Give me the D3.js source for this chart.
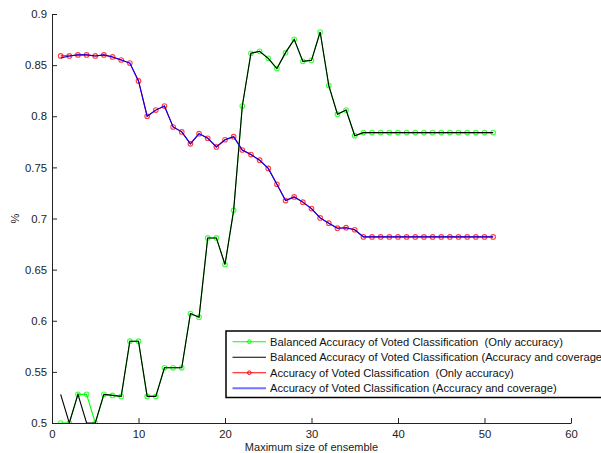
<!DOCTYPE html>
<html>
<head>
<meta charset="utf-8">
<script src="https://cdn.jsdelivr.net/npm/d3@7"></script>
<style>
  body { margin: 0; background: #fff; }
  svg { font-family: "Liberation Sans", Arial, sans-serif; }
</style>
</head>
<body>
<div id="canvas"></div>
<script>
// ensemble sizes 1..51
const sizes = d3.range(1, 52);

// Balanced Accuracy of Voted Classification (Only accuracy)
const balancedOnly = [0.5, 0.5, 0.528, 0.528, 0.5, 0.528, 0.527, 0.526, 0.58, 0.58,
  0.526, 0.526, 0.554, 0.554, 0.554, 0.607, 0.6035, 0.681, 0.681, 0.655,
  0.708, 0.81, 0.8616, 0.8635, 0.8567, 0.8466, 0.8622, 0.8752, 0.8537, 0.8547,
  0.8824, 0.83, 0.802, 0.806, 0.781, 0.784, 0.784, 0.784, 0.784, 0.784,
  0.784, 0.784, 0.784, 0.784, 0.784, 0.784, 0.784, 0.784, 0.784, 0.784, 0.784];

// Balanced Accuracy of Voted Classification (Accuracy and coverage)
const balancedCov = [0.528, 0.5, 0.528, 0.5, 0.5, 0.528, 0.527, 0.526, 0.58, 0.58,
  0.526, 0.526, 0.554, 0.554, 0.554, 0.607, 0.6035, 0.681, 0.681, 0.655,
  0.708, 0.81, 0.8616, 0.8635, 0.8567, 0.8466, 0.8622, 0.8752, 0.8537, 0.8547,
  0.8824, 0.83, 0.802, 0.806, 0.781, 0.784, 0.784, 0.784, 0.784, 0.784,
  0.784, 0.784, 0.784, 0.784, 0.784, 0.784, 0.784, 0.784, 0.784, 0.784, 0.784];

// Accuracy of Voted Classification (Only accuracy)
const accOnly = [0.859, 0.859, 0.86, 0.86, 0.859, 0.86, 0.858, 0.855, 0.852, 0.8345,
  0.8, 0.806, 0.81, 0.7895, 0.7847, 0.773, 0.783, 0.7785, 0.77, 0.777,
  0.78, 0.767, 0.7625, 0.757, 0.749, 0.7335, 0.7175, 0.7211, 0.716, 0.7097,
  0.7006, 0.6954, 0.6905, 0.691, 0.689, 0.682, 0.682, 0.682, 0.682, 0.682,
  0.682, 0.682, 0.682, 0.682, 0.682, 0.682, 0.682, 0.682, 0.682, 0.682, 0.682];

// Accuracy of Voted Classification (Accuracy and coverage)
const accCov = [0.857, 0.859, 0.86, 0.86, 0.859, 0.86, 0.858, 0.855, 0.852, 0.8345,
  0.8, 0.806, 0.81, 0.7895, 0.7847, 0.773, 0.783, 0.7785, 0.77, 0.777,
  0.78, 0.767, 0.7625, 0.757, 0.749, 0.7335, 0.7175, 0.7211, 0.716, 0.7097,
  0.7006, 0.6954, 0.6905, 0.691, 0.689, 0.682, 0.682, 0.682, 0.682, 0.682,
  0.682, 0.682, 0.682, 0.682, 0.682, 0.682, 0.682, 0.682, 0.682, 0.682, 0.682];

const xTicks = [0, 10, 20, 30, 40, 50, 60];
const yTicks = [0.5, 0.55, 0.6, 0.65, 0.7, 0.75, 0.8, 0.85, 0.9];

const series = [
  { name: "Balanced Accuracy of Voted Classification  (Only accuracy)", values: balancedOnly, color: "#00ff00", marker: true },
  { name: "Balanced Accuracy of Voted Classification (Accuracy and coverage)", values: balancedCov, color: "#000000", marker: false },
  { name: "Accuracy of Voted Classification  (Only accuracy)", values: accOnly, color: "#ff0000", marker: true },
  { name: "Accuracy of Voted Classification (Accuracy and coverage)", values: accCov, color: "#0000ff", marker: false }
];

const W = 601, H = 453;
const margin = { top: 14, right: 30, bottom: 30, left: 52 };

const svg = d3.select("#canvas").append("svg")
  .attr("width", W)
  .attr("height", H);

const x = d3.scaleLinear().domain([0, 60]).range([margin.left, W - margin.right]);
const y = d3.scaleLinear().domain([0.5, 0.9]).range([H - margin.bottom, margin.top]);

svg.append("defs").append("clipPath")
  .attr("id", "clip")
  .append("rect")
  .attr("x", x(0)).attr("y", y(0.9))
  .attr("width", x(60) - x(0)).attr("height", y(0.5) - y(0.9));

const plot = svg.append("g").attr("clip-path", "url(#clip)");

const line = d3.line()
  .x((d, i) => x(sizes[i]))
  .y(d => y(d));

series.forEach(s => {
  plot.append("path")
    .datum(s.values)
    .attr("fill", "none")
    .attr("stroke", s.color)
    .attr("stroke-width", 1.1)
    .attr("d", line);
  if (s.marker) {
    plot.append("g").selectAll("circle")
      .data(s.values)
      .join("circle")
      .attr("cx", (d, i) => x(sizes[i]))
      .attr("cy", d => y(d))
      .attr("r", 2.3)
      .attr("fill", "none")
      .attr("stroke", s.color)
      .attr("stroke-opacity", 0.75)
      .attr("stroke-width", 1.1);
  }
});

// axes, ticks pointing inward
const xAxis = svg.append("g")
  .attr("transform", "translate(0," + y(0.5) + ")")
  .call(d3.axisBottom(x).tickValues(xTicks).tickSizeInner(-5).tickSizeOuter(0).tickPadding(7));

const yAxis = svg.append("g")
  .attr("transform", "translate(" + x(0) + ",0)")
  .call(d3.axisLeft(y).tickValues(yTicks).tickFormat(d3.format("")).tickSizeInner(-5).tickSizeOuter(0).tickPadding(5));

[xAxis, yAxis].forEach(a => {
  a.select(".domain").attr("stroke", "#222");
  a.selectAll(".tick line").attr("stroke", "#222");
  a.selectAll("text").attr("font-size", 11.3).attr("fill", "#222")
    .attr("font-family", "'Liberation Sans', Arial, sans-serif");
});

svg.append("text")
  .attr("x", (x(0) + x(60)) / 2)
  .attr("y", 450.5)
  .attr("text-anchor", "middle")
  .attr("font-size", 11)
  .attr("fill", "#222")
  .text("Maximum size of ensemble");

svg.append("text")
  .attr("transform", "translate(19," + y(0.7) + ") rotate(-90)")
  .attr("text-anchor", "middle")
  .attr("font-size", 11)
  .attr("fill", "#222")
  .text("%");

// legend (runs past the right edge, like the original)
const legend = svg.append("g").attr("transform", "translate(226,331)");
legend.append("rect")
  .attr("x", 0).attr("y", 0)
  .attr("width", 400).attr("height", 66.5)
  .attr("fill", "#fff")
  .attr("stroke", "#000")
  .attr("stroke-width", 1.5);

series.forEach((s, i) => {
  const ly = 10.7 + i * 15.5;
  const row = legend.append("g").attr("transform", "translate(0," + ly + ")");
  row.append("line")
    .attr("x1", 6.5).attr("x2", 40)
    .attr("y1", 0).attr("y2", 0)
    .attr("stroke", s.color)
    .attr("stroke-opacity", i === 3 ? 0.55 : 1)
    .attr("stroke-width", i === 3 ? 2 : 1.1);
  if (s.marker) {
    row.append("circle")
      .attr("cx", 23.3).attr("cy", 0).attr("r", 1.8)
      .attr("fill", "none")
      .attr("stroke", s.color)
      .attr("stroke-width", 1);
  }
  row.append("text")
    .attr("x", 44)
    .attr("y", 0)
    .attr("dy", "0.35em")
    .attr("font-size", 11.2)
    .attr("fill", "#111")
    .style("white-space", "pre")
    .text(s.name);
});
</script>
</body>
</html>
